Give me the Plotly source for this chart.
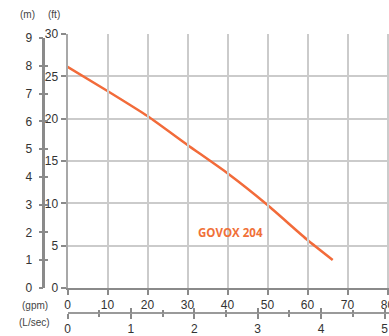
import plotly.graph_objects as go

# Data
flow_gpm = [0, 10, 20, 30, 40, 50, 60, 66.3]
head_ft = [26.13, 23.27, 20.31, 16.89, 13.55, 9.80, 5.67, 3.31]
model_label = "GOVOX 204"

gpm_ticks = [0, 10, 20, 30, 40, 50, 60, 70, 80]
ft_ticks = [0, 5, 10, 15, 20, 25, 30]
m_ticks = [0, 1, 2, 3, 4, 5, 6, 7, 8, 9]
lsec_ticks = [0, 1, 2, 3, 4, 5]

GPM_PER_LSEC = 15.8503
FT_PER_M = 3.28084

W, H = 389, 336
T = 34
pw, ph = W, H - T


def xp(page_x):
    return page_x / pw


def yp(page_y):
    return (H - page_y) / ph


x_dom = [xp(67.5), 1.0]
gpm_max = (389 - 67.5) / 4.0
y0_px = 288.0
y_bot = yp(y0_px)
ft_px = (y0_px - T) / 30.0
m_top_px = y0_px - 9 * FT_PER_M * ft_px
m_dom = [y_bot, yp(m_top_px)]
m_pos = xp(43.3)
lsec_pos = yp(313)

curve_color = "#F26B3A"
axis_col = "#8a8a8a"
grid_col = "#cbcbcb"
font_fam = "Liberation Sans, Arial, sans-serif"
tick_font = dict(family=font_fam, size=12, color="#333333")

fig = go.Figure()
# dummy traces to make secondary axes render
fig.add_trace(go.Scatter(x=[None], y=[None], xaxis="x", yaxis="y2", showlegend=False))
fig.add_trace(go.Scatter(x=[None], y=[None], xaxis="x", yaxis="y3", showlegend=False))
fig.add_trace(go.Scatter(x=[None], y=[None], xaxis="x2", yaxis="y", showlegend=False))
fig.add_trace(go.Scatter(x=[None], y=[None], xaxis="x3", yaxis="y", showlegend=False))
fig.add_trace(go.Scatter(x=flow_gpm, y=head_ft, mode="lines",
                         line=dict(color=curve_color, width=2.5, shape="spline", smoothing=0.5),
                         showlegend=False, hoverinfo="skip"))

fig.add_annotation(x=40.75, y=6.6, text="<b>" + model_label + "</b>", showarrow=False,
                   font=dict(family="Open Sans, sans-serif", size=11.5, color="#F07038"))

fig.update_layout(
    width=W, height=H, margin=dict(l=0, r=0, t=T, b=0, autoexpand=False),
    paper_bgcolor="white", plot_bgcolor="rgba(0,0,0,0)",
    xaxis=dict(domain=x_dom, range=[0, gpm_max], tickvals=gpm_ticks, ticks="outside", ticklen=5,
               tickwidth=2, tickcolor=axis_col, showline=True, linecolor=axis_col, linewidth=2,
               showgrid=True, gridcolor=grid_col, gridwidth=2, zeroline=False,
               tickfont=tick_font, anchor="y", automargin=False, ticklabeloverflow="allow"),
    yaxis=dict(domain=[y_bot, 1], range=[0, 30], tickvals=ft_ticks, ticks="outside", ticklen=5,
               tickwidth=2, tickcolor=axis_col, showline=True, linecolor="#a8a8a8", linewidth=2,
               showgrid=True, gridcolor=grid_col, gridwidth=2, zeroline=False,
               tickfont=tick_font, anchor="x", ticklabelstandoff=0, automargin=False,
               ticklabeloverflow="allow"),
    yaxis2=dict(domain=m_dom, range=[0, 9], tickvals=m_ticks, ticks="outside", ticklen=4,
                tickwidth=2, tickcolor=axis_col, showline=True, linecolor=axis_col, linewidth=2.5,
                showgrid=False, zeroline=False, tickfont=tick_font, anchor="free", position=m_pos,
                ticklabelstandoff=4, automargin=False, ticklabeloverflow="allow"),
    yaxis3=dict(domain=m_dom, range=[0, 9], tickvals=m_ticks, ticks="inside", ticklen=4,
                tickwidth=2, tickcolor=axis_col, showline=False, showticklabels=False,
                showgrid=False, zeroline=False, anchor="free", position=m_pos, automargin=False),
    xaxis2=dict(domain=x_dom, range=[0, gpm_max / GPM_PER_LSEC], tickvals=lsec_ticks, ticks="outside",
                ticklen=5, tickwidth=1.5, tickcolor=axis_col, showline=True, linecolor="#9a9a9a",
                linewidth=1.5, showgrid=False, zeroline=False, tickfont=tick_font,
                anchor="free", position=lsec_pos, overlaying="x", automargin=False,
                ticklabelstandoff=0, ticklabeloverflow="allow",
                minor=dict(dtick=0.5, ticks="outside", ticklen=3, tickwidth=1.5, tickcolor=axis_col)),
    xaxis3=dict(domain=x_dom, range=[0, gpm_max / GPM_PER_LSEC], tickvals=lsec_ticks, ticks="inside",
                ticklen=5, tickwidth=1.5, tickcolor=axis_col, showline=False, showticklabels=False,
                showgrid=False, zeroline=False, anchor="free", position=lsec_pos, overlaying="x",
                automargin=False,
                minor=dict(dtick=0.5, ticks="inside", ticklen=3, tickwidth=1.5, tickcolor=axis_col)),
)

unit_font = dict(family=font_fam, size=10, color="#444444")
fig.add_annotation(xref="paper", yref="paper", x=xp(27), y=yp(14.5), text="(m)",
                   showarrow=False, xanchor="center", yanchor="middle", font=unit_font)
fig.add_annotation(xref="paper", yref="paper", x=xp(54), y=yp(14.5), text="(ft)",
                   showarrow=False, xanchor="center", yanchor="middle", font=unit_font)
fig.add_annotation(xref="paper", yref="paper", x=xp(50), y=yp(305.5), text="(gpm)",
                   showarrow=False, xanchor="right", yanchor="middle", font=unit_font)
fig.add_annotation(xref="paper", yref="paper", x=xp(51.5), y=yp(322), text="(L/sec)",
                   showarrow=False, xanchor="right", yanchor="middle", font=unit_font)

# remove the default page margin so the figure fills the window exactly
fig.write_html("out.html",
               config={"displayModeBar": False},
               post_script="document.body.style.margin='0px';"
                           "document.documentElement.style.overflow='hidden';")
